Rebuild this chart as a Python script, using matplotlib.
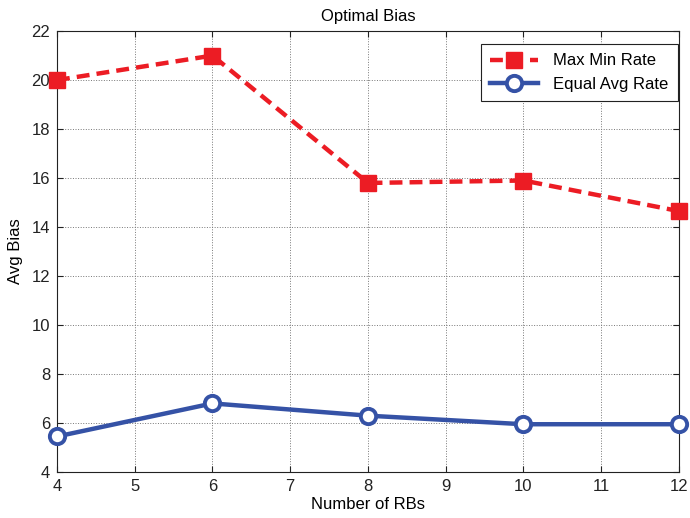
import matplotlib.pyplot as plt

rbs = [4, 6, 8, 10, 12]
max_min_rate = [20.0, 21.0, 15.8, 15.9, 14.65]
equal_avg_rate = [5.45, 6.8, 6.3, 5.95, 5.95]

plt.rcParams['font.family'] = ['Liberation Sans', 'DejaVu Sans']
plt.rcParams['font.size'] = 12

fig = plt.figure(figsize=(6.9, 5.18), dpi=100)
ax = fig.add_axes([0.0826, 0.0888, 0.9014, 0.8512])

ax.plot(rbs, max_min_rate, color='#ec1c24', linestyle='--', linewidth=3.2,
        dashes=(2.9, 1.6), marker='s', markersize=11, markerfacecolor='#ec1c24',
        markeredgecolor='#ec1c24', label='Max Min Rate', clip_on=False, zorder=3)
ax.plot(rbs, equal_avg_rate, color='#3552a6', linewidth=3.2, marker='o',
        markersize=11, markerfacecolor='white', markeredgewidth=2.8,
        markeredgecolor='#3552a6', label='Equal Avg Rate', clip_on=False, zorder=3)

ax.set_xlim(4, 12)
ax.set_ylim(4, 22)
ax.set_xticks(range(4, 13))
ax.set_yticks(range(4, 23, 2))
ax.grid(True, linestyle=':', color='#777777', linewidth=0.7)
ax.tick_params(direction='in', top=True, right=True, length=4, colors='#222222',
               pad=5)
for s in ax.spines.values():
    s.set_color('#222222')

ax.set_xlabel('Number of RBs', labelpad=2)
ax.set_ylabel('Avg Bias', labelpad=6)
ax.set_title('Optimal Bias', fontsize=12, pad=7)

leg = ax.legend(loc='upper right', bbox_to_anchor=(0.998, 0.97), borderaxespad=0,
                fancybox=False, edgecolor='#222222', framealpha=1,
                handlelength=2.9, handletextpad=0.9, fontsize=12,
                borderpad=0.55, labelspacing=0.5)
leg.get_frame().set_linewidth(0.8)

plt.savefig('out.png', dpi=100)
